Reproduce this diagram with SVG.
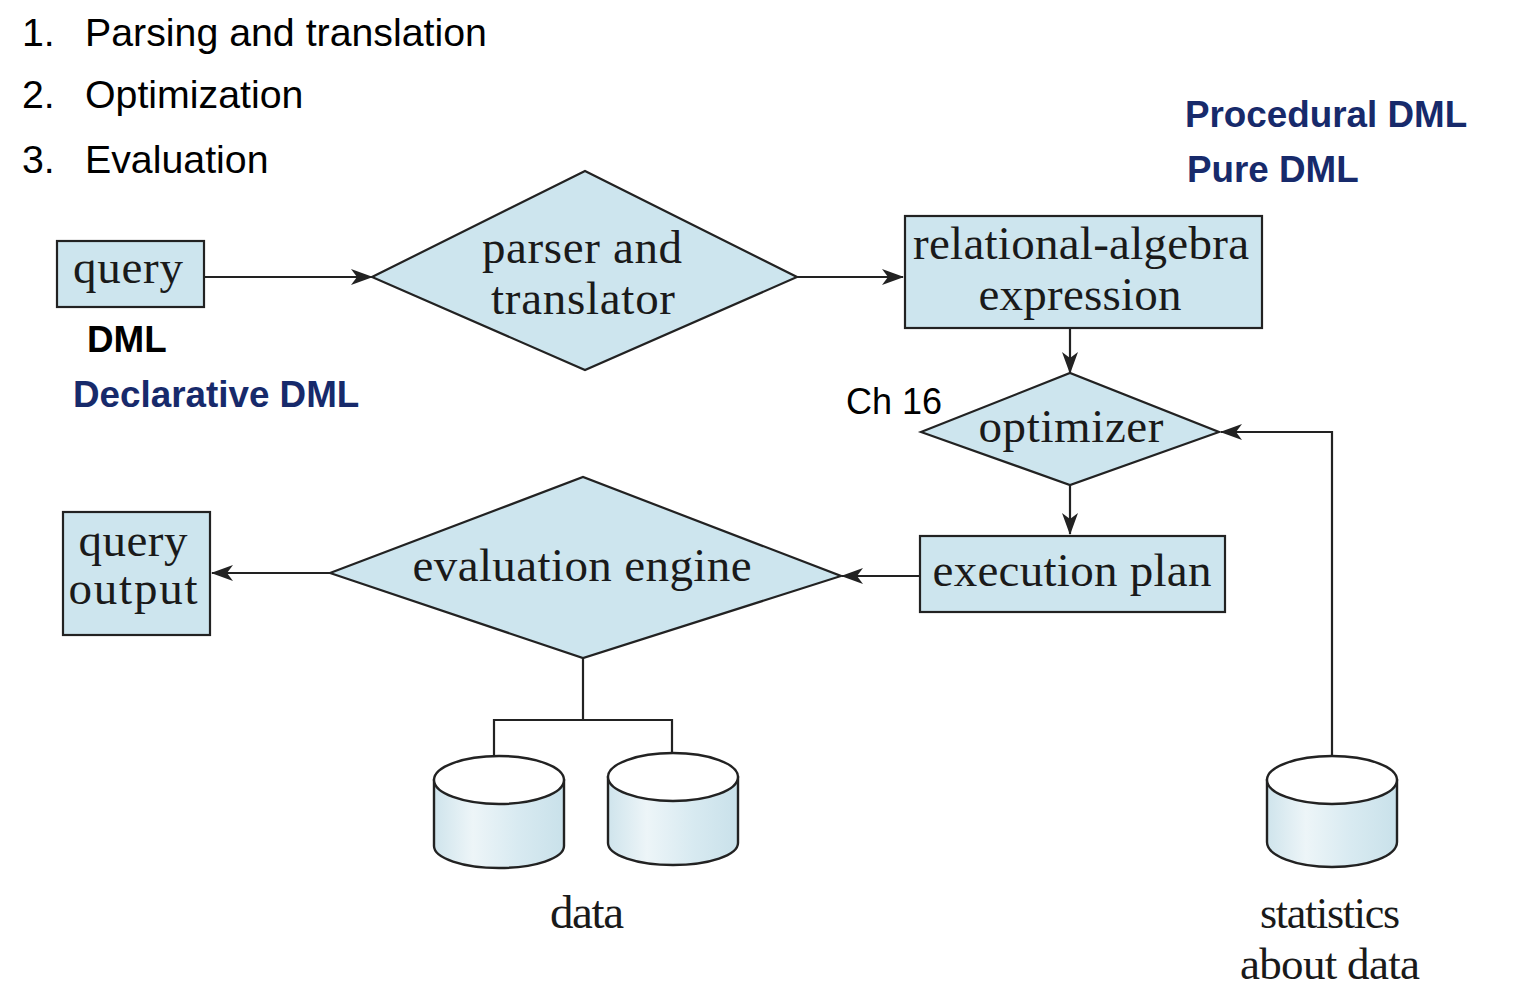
<svg xmlns="http://www.w3.org/2000/svg" width="1533" height="999" viewBox="0 0 1533 999">
<defs>
<style>
.shape{fill:#cde5ee;stroke:#222;stroke-width:2.2}
.line{fill:none;stroke:#222;stroke-width:2.2}
.serif{font-family:"Liberation Serif","DejaVu Serif",serif;font-size:47px;fill:#1a1a1a;text-anchor:middle}
.sans{font-family:"Liberation Sans",Arial,sans-serif;font-size:39.3px;fill:#000}
.blue{font-family:"Liberation Sans",Arial,sans-serif;font-size:36.8px;font-weight:bold;fill:#172a6b}
.cyl{fill:url(#cg);stroke:#222;stroke-width:2.4}
.top{fill:#fff;stroke:#222;stroke-width:2.4}
</style>
<linearGradient id="cg" x1="0" y1="0" x2="1" y2="0">
<stop offset="0" stop-color="#cfe4ec"/>
<stop offset="0.3" stop-color="#edf5f8"/>
<stop offset="0.65" stop-color="#d8eaf1"/>
<stop offset="1" stop-color="#c9e1ea"/>
</linearGradient>
<marker id="ah" markerUnits="userSpaceOnUse" markerWidth="22" markerHeight="16" viewBox="0 0 22 16" refX="21" refY="8" orient="auto">
<path d="M0,0 L22,8 L0,16 L6,8 z" fill="#222"/>
</marker>
</defs>

<g id="steps">
<text class="sans" x="22" y="46">1.</text>
<text class="sans" x="85" y="46">Parsing and translation</text>
<text class="sans" x="22" y="108">2.</text>
<text class="sans" x="85" y="108">Optimization</text>
<text class="sans" x="22" y="173">3.</text>
<text class="sans" x="85" y="173">Evaluation</text>
</g>

<g id="labels">
<text class="blue" x="1185" y="127">Procedural DML</text>
<text class="blue" x="1187" y="182">Pure DML</text>
<text class="blue" x="87" y="352" style="fill:#000">DML</text>
<text class="blue" x="73" y="407">Declarative DML</text>
<text class="sans" x="846" y="414" style="font-size:36px">Ch 16</text>
</g>

<g id="connectors">
<line class="line" x1="204" y1="277" x2="372" y2="277" marker-end="url(#ah)"/>
<line class="line" x1="797" y1="277" x2="903" y2="277" marker-end="url(#ah)"/>
<line class="line" x1="1070" y1="328" x2="1070" y2="373" marker-end="url(#ah)"/>
<line class="line" x1="1070" y1="485" x2="1070" y2="534" marker-end="url(#ah)"/>
<line class="line" x1="920" y1="576" x2="842" y2="576" marker-end="url(#ah)"/>
<line class="line" x1="330" y1="573" x2="212" y2="573" marker-end="url(#ah)"/>
<polyline class="line" points="583,658 583,720"/>
<polyline class="line" points="494,758 494,720 672,720 672,754"/>
<polyline class="line" points="1332,756 1332,432 1221,432" marker-end="url(#ah)"/>
</g>

<g id="query">
<rect class="shape" x="57" y="241" width="147" height="66"/>
<text class="serif" x="128" y="283" textLength="110">query</text>
</g>

<g id="parser">
<polygon class="shape" points="372,277 585,171 797,277 585,370"/>
<text class="serif" x="582" y="263" textLength="200">parser and</text>
<text class="serif" x="583" y="314" textLength="184">translator</text>
</g>

<g id="relalg">
<rect class="shape" x="905" y="216" width="357" height="112"/>
<text class="serif" x="1081" y="259" textLength="336">relational-algebra</text>
<text class="serif" x="1080" y="310" textLength="203">expression</text>
</g>

<g id="optimizer">
<polygon class="shape" points="921,432 1070,373 1219,432 1070,485"/>
<text class="serif" x="1071" y="442" textLength="185">optimizer</text>
</g>

<g id="execplan">
<rect class="shape" x="920" y="536" width="305" height="76"/>
<text class="serif" x="1072" y="586" textLength="279">execution plan</text>
</g>

<g id="evaluation">
<polygon class="shape" points="330,573 583,477 841,576 583,658"/>
<text class="serif" x="582" y="581" textLength="339">evaluation engine</text>
</g>

<g id="queryoutput">
<rect class="shape" x="63" y="512" width="147" height="123"/>
<text class="serif" x="133" y="556" textLength="109">query</text>
<text class="serif" x="133" y="604" textLength="129">output</text>
</g>

<g id="data1">
<path class="cyl" d="M434,780 L434,846 A65,22 0 0 0 564,846 L564,780 z"/>
<ellipse class="top" cx="499" cy="780" rx="65" ry="24"/>
</g>
<g id="data2">
<path class="cyl" d="M608,777 L608,843 A65,22 0 0 0 738,843 L738,777 z"/>
<ellipse class="top" cx="673" cy="777" rx="65" ry="24"/>
</g>
<text class="serif" x="587" y="928" textLength="74">data</text>

<g id="stats">
<path class="cyl" d="M1267,780 L1267,842 A65,25 0 0 0 1397,842 L1397,780 z"/>
<ellipse class="top" cx="1332" cy="780" rx="65" ry="24"/>
<text class="serif" x="1330" y="928" textLength="140" style="font-size:44px">statistics</text>
<text class="serif" x="1330" y="979" textLength="180" style="font-size:45px">about data</text>
</g>
</svg>
